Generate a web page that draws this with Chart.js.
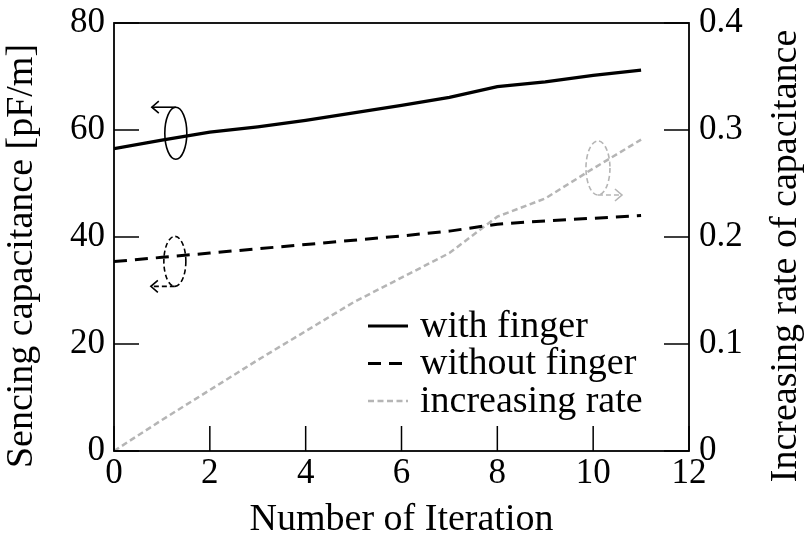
<!DOCTYPE html>
<html>
<head>
<meta charset="utf-8">
<script src="https://cdn.jsdelivr.net/npm/chart.js@4"></script>
<style>
  html, body { margin: 0; padding: 0; background: #fff; }
  #wrap { width: 809px; height: 539px; }
</style>
</head>
<body>
<div id="wrap"><canvas id="capChart"></canvas></div>
<script>
const iterations = [0, 1, 2, 3, 4, 5, 6, 7, 8, 9, 10, 11]
const withFinger = [56.5, 58.1, 59.6, 60.6, 61.8, 63.2, 64.6, 66.1, 68.1, 69.0, 70.2, 71.2]
const withoutFinger = [35.4, 36.2, 37.0, 37.8, 38.6, 39.4, 40.2, 41.1, 42.4, 43.0, 43.5, 44.0]
const rate = [0, 0.029, 0.057, 0.085, 0.112, 0.139, 0.162, 0.185, 0.219, 0.236, 0.264, 0.291]

const xTicks = [0, 2, 4, 6, 8, 10, 12]
const leftTicks = [0, 20, 40, 60, 80]
const rightTicks = [0, 0.1, 0.2, 0.3, 0.4]

const leftTitle = 'Sencing capacitance [pF/m]'
const rightTitle = 'Increasing rate of capacitance'

const serif = "'Liberation Serif', 'Times New Roman', serif"
const gray = '#b5b5b5'

function pts(ys) {
  return iterations.map((x, i) => ({ x: x, y: ys[i] }))
}

// box around the plot, inward tick marks, and the two vertical titles
const frame = {
  id: 'frame',
  afterDraw(chart) {
    const { ctx, chartArea: a, scales } = chart
    const len = 25
    ctx.save()
    ctx.strokeStyle = '#000'
    ctx.lineWidth = 1.8
    ctx.strokeRect(a.left, a.top, a.right - a.left, a.bottom - a.top)
    ctx.lineWidth = 1.5
    ctx.beginPath()
    xTicks.forEach(v => {
      const px = scales.x.getPixelForValue(v)
      ctx.moveTo(px, a.bottom)
      ctx.lineTo(px, a.bottom - len)
    })
    leftTicks.forEach(v => {
      const py = scales.y.getPixelForValue(v)
      ctx.moveTo(a.left, py)
      ctx.lineTo(a.left + len, py)
    })
    rightTicks.forEach(v => {
      const py = scales.y1.getPixelForValue(v)
      ctx.moveTo(a.right, py)
      ctx.lineTo(a.right - len, py)
    })
    ctx.stroke()

    // both titles read bottom to top
    ctx.fillStyle = '#000'
    ctx.font = '38px ' + serif
    ctx.textAlign = 'center'
    ctx.textBaseline = 'middle'
    const midY = (a.top + a.bottom) / 2 + 19
    ctx.save()
    ctx.translate(22, midY)
    ctx.rotate(-Math.PI / 2)
    ctx.fillText(leftTitle, 0, 0)
    ctx.restore()
    ctx.translate(786, midY)
    ctx.rotate(-Math.PI / 2)
    ctx.fillText(rightTitle, 0, 0)
    ctx.restore()
  }
}

// ellipse markers telling which axis each curve belongs to
function axisMarker(ctx, cx, cy, rx, ry, dir, fromTop, color, dash) {
  ctx.save()
  ctx.strokeStyle = color
  ctx.lineWidth = 1.6
  ctx.setLineDash(dash)
  ctx.beginPath()
  ctx.ellipse(cx, cy, rx, ry, 0, 0, Math.PI * 2)
  ctx.stroke()
  const ay = fromTop ? cy - ry : cy + ry
  const ex = cx + dir * 24
  ctx.beginPath()
  ctx.moveTo(cx, ay)
  ctx.lineTo(ex, ay)
  ctx.stroke()
  ctx.setLineDash([])
  ctx.beginPath()
  ctx.moveTo(ex - dir * 7, ay - 6)
  ctx.lineTo(ex, ay)
  ctx.lineTo(ex - dir * 7, ay + 6)
  ctx.stroke()
  ctx.restore()
}

const markers = {
  id: 'markers',
  afterDatasetsDraw(chart) {
    const { ctx, scales } = chart
    const x = scales.x, y = scales.y, y1 = scales.y1
    axisMarker(ctx, x.getPixelForValue(1.29), y.getPixelForValue(59.4), 11, 26, -1, true, '#000', [])
    axisMarker(ctx, x.getPixelForValue(1.27), y.getPixelForValue(35.45), 11, 25, -1, false, '#000', [5, 3])
    axisMarker(ctx, x.getPixelForValue(10.1), y1.getPixelForValue(0.2645), 12, 27, 1, false, gray, [5, 3])
  }
}

// legend in the lower right corner of the plot
const boxLegend = {
  id: 'boxLegend',
  afterDraw(chart) {
    const { ctx, chartArea: a } = chart
    const x0 = a.right - 321
    ctx.save()
    ctx.font = '38px ' + serif
    ctx.textBaseline = 'middle'
    ctx.fillStyle = '#000'
    chart.data.datasets.forEach((ds, i) => {
      const yy = a.bottom - 125 + i * 37.5
      ctx.strokeStyle = ds.borderColor
      ctx.lineWidth = ds.borderWidth
      ctx.setLineDash(ds.borderDash || [])
      ctx.beginPath()
      ctx.moveTo(x0, yy)
      ctx.lineTo(x0 + 40, yy)
      ctx.stroke()
      ctx.setLineDash([])
      ctx.fillText(ds.label, x0 + 52, yy + 1)
    })
    ctx.restore()
  }
}

new Chart(document.getElementById('capChart'), {
  type: 'line',
  data: {
    datasets: [{
      label: 'with finger',
      data: pts(withFinger),
      yAxisID: 'y',
      borderColor: '#000',
      borderWidth: 3.2,
      pointRadius: 0
    }, {
      label: 'without finger',
      data: pts(withoutFinger),
      yAxisID: 'y',
      borderColor: '#000',
      borderWidth: 3,
      borderDash: [13, 8],
      pointRadius: 0
    }, {
      label: 'increasing rate',
      data: pts(rate),
      yAxisID: 'y1',
      borderColor: gray,
      borderWidth: 2.5,
      borderDash: [6, 3.5],
      pointRadius: 0
    }]
  },
  options: {
    responsive: true,
    maintainAspectRatio: false,
    animation: false,
    layout: { padding: { top: 20, left: 0, right: 0, bottom: 0 } },
    plugins: { legend: { display: false }, tooltip: { enabled: false } },
    scales: {
      x: {
        type: 'linear',
        min: 0, max: 12,
        grid: { display: false },
        border: { display: false },
        ticks: { stepSize: 2, autoSkip: false, maxRotation: 0, padding: -6, color: '#000', font: { family: serif, size: 35 } },
        title: { display: true, text: 'Number of Iteration', color: '#000', font: { family: serif, size: 38 }, padding: { top: 0, bottom: -4 } },
        afterFit(s) { s.height = 88 }
      },
      y: {
        position: 'left',
        min: 0, max: 80,
        grid: { display: false },
        border: { display: false },
        ticks: { stepSize: 20, autoSkip: false, padding: 1, color: '#000', font: { family: serif, size: 35 } },
        afterFit(s) { s.width = 114 }
      },
      y1: {
        position: 'right',
        min: 0, max: 0.4,
        grid: { display: false },
        border: { display: false },
        ticks: { stepSize: 0.1, autoSkip: false, padding: 2, color: '#000', font: { family: serif, size: 35 } },
        afterFit(s) { s.width = 120 }
      }
    }
  },
  plugins: [markers, frame, boxLegend]
})
</script>
</body>
</html>
